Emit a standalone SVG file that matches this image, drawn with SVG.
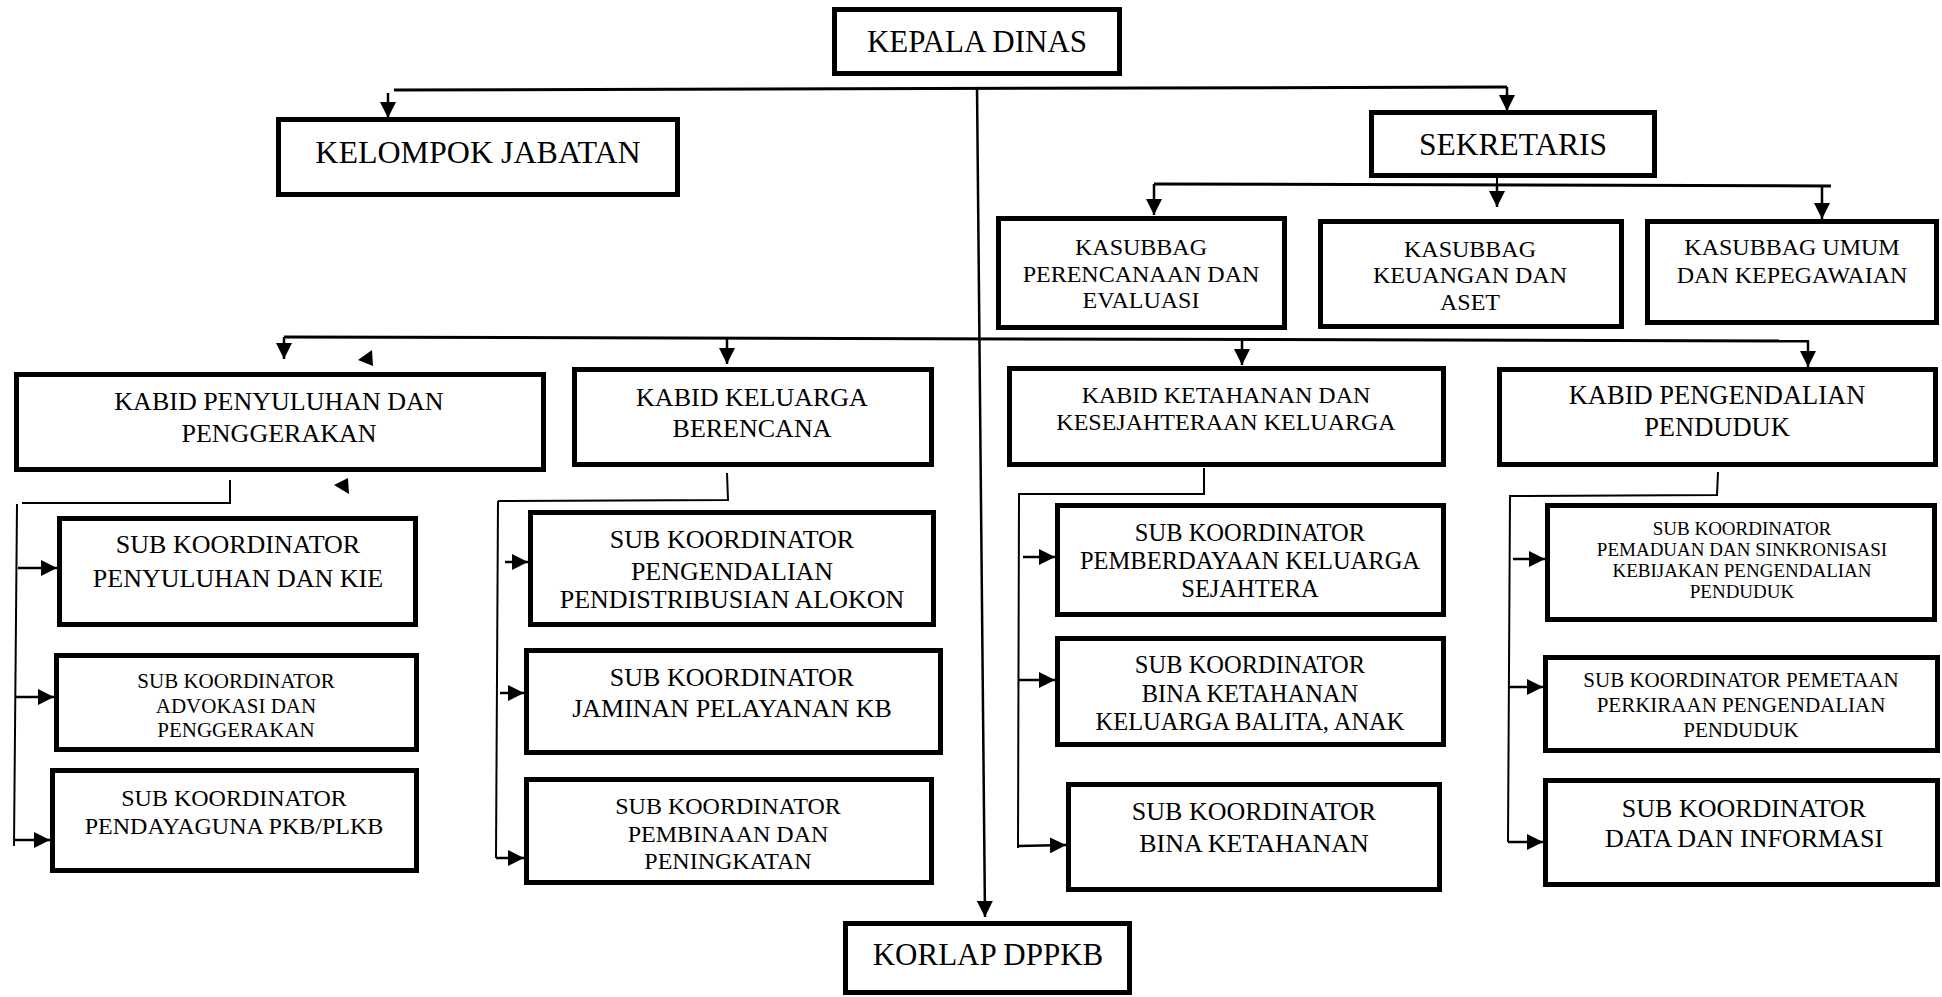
<svg xmlns="http://www.w3.org/2000/svg" width="1942" height="997" viewBox="0 0 1942 997">
<style>
.box{fill:#fff;stroke:#000;stroke-width:5}
.ln{fill:none;stroke:#000;stroke-width:2}
.ar{fill:none;stroke:#000;stroke-width:2.5;marker-end:url(#ah)}
text{font-family:"Liberation Serif","Times New Roman",serif;fill:#000;text-anchor:middle}
</style>
<defs>
<marker id="ah" viewBox="0 0 12 12" refX="12" refY="6" markerWidth="16" markerHeight="16" markerUnits="userSpaceOnUse" orient="auto">
<path d="M0,0 L12,6 L0,12 z" fill="#000"/>
</marker>
</defs>
<rect width="1942" height="997" fill="#fff"/>

<g id="connectors">
<polyline class="ln" points="394,90 1507,87" style="stroke-width:3"/>
<line class="ar" x1="388" y1="93" x2="388" y2="118"/>
<line class="ar" x1="1507" y1="87" x2="1507" y2="111"/>
<line class="ar" x1="977" y1="87" x2="985" y2="917"/>
<line class="ln" x1="1497" y1="178" x2="1497" y2="185"/>
<line class="ar" x1="1497" y1="185" x2="1497" y2="207"/>
<line class="ln" x1="1154" y1="184" x2="1831" y2="186" style="stroke-width:3"/>
<line class="ar" x1="1154" y1="184" x2="1154" y2="215"/>
<line class="ar" x1="1822" y1="187" x2="1822" y2="219"/>
<line class="ln" x1="284" y1="337" x2="1809" y2="341" style="stroke-width:3"/>
<line class="ar" x1="284" y1="337" x2="284" y2="359"/>
<line class="ar" x1="727" y1="338" x2="727" y2="364"/>
<line class="ar" x1="1242" y1="339" x2="1242" y2="365"/>
<line class="ar" x1="1808" y1="341" x2="1808" y2="367"/>
<polygon points="358,360 372,350 373,366" fill="#000"/>
<polygon points="334,485 348,478 349,494" fill="#000"/>
<polyline class="ln" points="230,480 230,503 22,503"/>
<line class="ln" x1="17" y1="504" x2="14" y2="846"/>
<line class="ar" x1="18" y1="568" x2="57" y2="568"/>
<line class="ar" x1="16" y1="697" x2="54" y2="697"/>
<line class="ar" x1="14" y1="840" x2="50" y2="840"/>
<polyline class="ln" points="727,473 728,500 498,501"/>
<line class="ln" x1="498" y1="501" x2="496" y2="858"/>
<line class="ar" x1="505" y1="562" x2="528" y2="562"/>
<line class="ar" x1="500" y1="693" x2="524" y2="693"/>
<line class="ar" x1="496" y1="858" x2="524" y2="858"/>
<polyline class="ln" points="1204,468 1204,494 1019,494 1018,848"/>
<line class="ar" x1="1023" y1="557" x2="1055" y2="557"/>
<line class="ar" x1="1019" y1="680" x2="1055" y2="680"/>
<line class="ar" x1="1018" y1="846" x2="1066" y2="845"/>
<polyline class="ln" points="1718,472 1717,495 1510,496 1508,842"/>
<line class="ar" x1="1513" y1="559" x2="1545" y2="559"/>
<line class="ar" x1="1508" y1="687" x2="1543" y2="687"/>
<line class="ar" x1="1508" y1="842" x2="1543" y2="842"/>
</g>

<g id="kepala-dinas"><rect class="box" x="834.5" y="9.5" width="285" height="64"/><text x="977" y="52" font-size="31">KEPALA DINAS</text></g>
<g id="kelompok-jabatan"><rect class="box" x="278.5" y="119.5" width="399" height="75"/><text x="478" y="163" font-size="32">KELOMPOK JABATAN</text></g>
<g id="sekretaris"><rect class="box" x="1371.5" y="112.5" width="283" height="63"/><text x="1513" y="155" font-size="31.5">SEKRETARIS</text></g>
<g id="kasubbag-perencanaan"><rect class="box" x="998.5" y="218.5" width="286" height="109"/><text font-size="24"><tspan x="1141" y="255">KASUBBAG</tspan><tspan x="1141" y="282">PERENCANAAN DAN</tspan><tspan x="1141" y="308">EVALUASI</tspan></text></g>
<g id="kasubbag-keuangan"><rect class="box" x="1320.5" y="221.5" width="301" height="105"/><text font-size="24"><tspan x="1470" y="257">KASUBBAG</tspan><tspan x="1470" y="283">KEUANGAN DAN</tspan><tspan x="1470" y="310">ASET</tspan></text></g>
<g id="kasubbag-umum"><rect class="box" x="1647.5" y="221.5" width="289" height="101"/><text font-size="24"><tspan x="1792" y="255">KASUBBAG UMUM</tspan><tspan x="1792" y="283">DAN KEPEGAWAIAN</tspan></text></g>

<g id="kabid-penyuluhan"><rect class="box" x="16.5" y="374.5" width="527" height="95"/><text font-size="26"><tspan x="279" y="410">KABID PENYULUHAN DAN</tspan><tspan x="279" y="442">PENGGERAKAN</tspan></text></g>
<g id="sub-kie"><rect class="box" x="59.5" y="518.5" width="356" height="106"/><text font-size="26"><tspan x="238" y="553">SUB KOORDINATOR</tspan><tspan x="238" y="587">PENYULUHAN DAN KIE</tspan></text></g>
<g id="sub-advokasi"><rect class="box" x="56.5" y="655.5" width="360" height="94"/><text font-size="21"><tspan x="236" y="688">SUB KOORDINATOR</tspan><tspan x="236" y="713">ADVOKASI DAN</tspan><tspan x="236" y="737">PENGGERAKAN</tspan></text></g>
<g id="sub-pendayaguna"><rect class="box" x="52.5" y="770.5" width="364" height="100"/><text font-size="24"><tspan x="234" y="806">SUB KOORDINATOR</tspan><tspan x="234" y="834">PENDAYAGUNA PKB/PLKB</tspan></text></g>

<g id="kabid-kb"><rect class="box" x="574.5" y="369.5" width="357" height="95"/><text font-size="26"><tspan x="752" y="406">KABID KELUARGA</tspan><tspan x="752" y="437">BERENCANA</tspan></text></g>
<g id="sub-alokon"><rect class="box" x="530.5" y="512.5" width="403" height="112"/><text font-size="26"><tspan x="732" y="548">SUB KOORDINATOR</tspan><tspan x="732" y="580">PENGENDALIAN</tspan><tspan x="732" y="608">PENDISTRIBUSIAN ALOKON</tspan></text></g>
<g id="sub-jaminan"><rect class="box" x="526.5" y="650.5" width="414" height="102"/><text font-size="26"><tspan x="732" y="686">SUB KOORDINATOR</tspan><tspan x="732" y="717">JAMINAN PELAYANAN KB</tspan></text></g>
<g id="sub-pembinaan"><rect class="box" x="526.5" y="779.5" width="405" height="103"/><text font-size="24"><tspan x="728" y="814">SUB KOORDINATOR</tspan><tspan x="728" y="842">PEMBINAAN DAN</tspan><tspan x="728" y="869">PENINGKATAN</tspan></text></g>

<g id="kabid-ketahanan"><rect class="box" x="1009.5" y="368.5" width="434" height="96"/><text font-size="24"><tspan x="1226" y="403">KABID KETAHANAN DAN</tspan><tspan x="1226" y="430">KESEJAHTERAAN KELUARGA</tspan></text></g>
<g id="sub-pemberdayaan"><rect class="box" x="1057.5" y="505.5" width="386" height="109"/><text font-size="24.5"><tspan x="1250" y="541">SUB KOORDINATOR</tspan><tspan x="1250" y="569">PEMBERDAYAAN KELUARGA</tspan><tspan x="1250" y="597">SEJAHTERA</tspan></text></g>
<g id="sub-balita"><rect class="box" x="1057.5" y="638.5" width="386" height="106"/><text font-size="24.5"><tspan x="1250" y="673">SUB KOORDINATOR</tspan><tspan x="1250" y="702">BINA KETAHANAN</tspan><tspan x="1250" y="730">KELUARGA BALITA, ANAK</tspan></text></g>
<g id="sub-bina-ketahanan"><rect class="box" x="1068.5" y="784.5" width="371" height="105"/><text font-size="26"><tspan x="1254" y="820">SUB KOORDINATOR</tspan><tspan x="1254" y="852">BINA KETAHANAN</tspan></text></g>

<g id="kabid-pengendalian"><rect class="box" x="1499.5" y="369.5" width="436" height="95"/><text font-size="26.5"><tspan x="1717" y="404">KABID PENGENDALIAN</tspan><tspan x="1717" y="436">PENDUDUK</tspan></text></g>
<g id="sub-pemaduan"><rect class="box" x="1547.5" y="505.5" width="387" height="114"/><text font-size="19"><tspan x="1742" y="535">SUB KOORDINATOR</tspan><tspan x="1742" y="556">PEMADUAN DAN SINKRONISASI</tspan><tspan x="1742" y="577">KEBIJAKAN PENGENDALIAN</tspan><tspan x="1742" y="598">PENDUDUK</tspan></text></g>
<g id="sub-pemetaan"><rect class="box" x="1545.5" y="657.5" width="392" height="93"/><text font-size="21"><tspan x="1741" y="687">SUB KOORDINATOR PEMETAAN</tspan><tspan x="1741" y="712">PERKIRAAN PENGENDALIAN</tspan><tspan x="1741" y="737">PENDUDUK</tspan></text></g>
<g id="sub-data"><rect class="box" x="1545.5" y="780.5" width="392" height="104"/><text font-size="26"><tspan x="1744" y="817">SUB KOORDINATOR</tspan><tspan x="1744" y="847">DATA DAN INFORMASI</tspan></text></g>

<g id="korlap"><rect class="box" x="845.5" y="923.5" width="284" height="69"/><text x="988" y="965" font-size="31">KORLAP DPPKB</text></g>
</svg>
